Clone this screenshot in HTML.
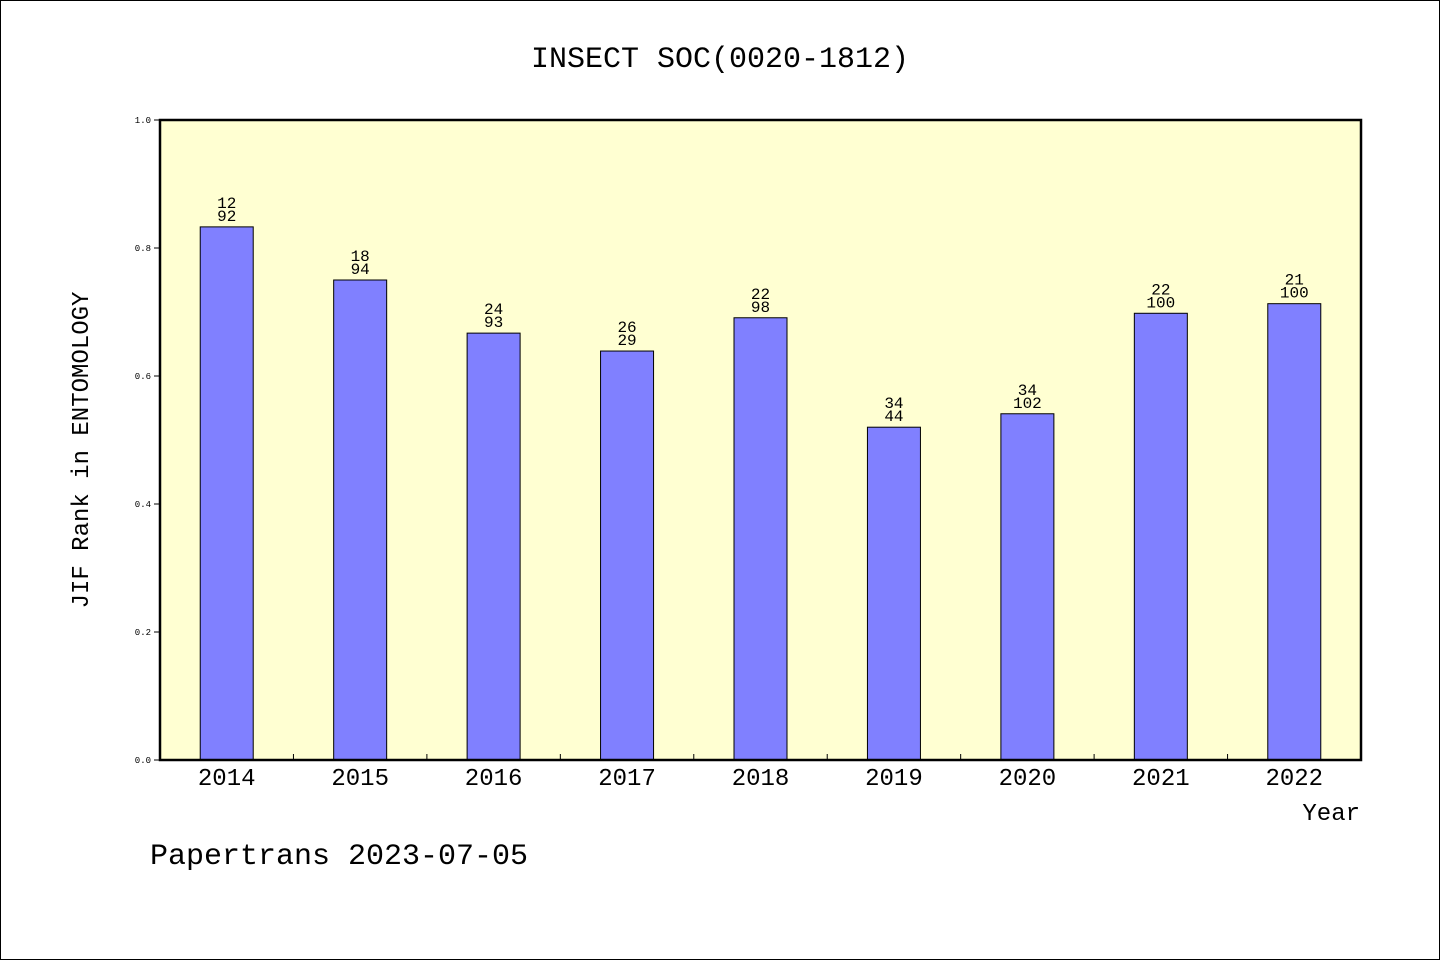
<!DOCTYPE html>
<html><head><meta charset="utf-8"><style>
html,body{margin:0;padding:0;background:#fff}
svg{display:block}
text{font-family:"WenQuanYi Zen Hei","Liberation Mono",monospace;fill:#000}
</style></head><body>
<svg width="1440" height="960">
<rect x="0.5" y="0.5" width="1439" height="959" fill="#fff" stroke="#000"/>
<text x="720" y="67" font-size="30" text-anchor="middle">INSECT SOC(0020-1812)</text>
<rect x="160" y="120" width="1201" height="640" fill="#ffffd2"/>
<g id="bars"></g>
<g id="axes"></g>
<rect x="160" y="120" width="1201" height="640" fill="none" stroke="#000" stroke-width="2.5"/>
<text x="88" y="450" font-size="24" text-anchor="middle" transform="rotate(-90 88 450)">JIF Rank in ENTOMOLOGY</text>
<text x="1360" y="820" font-size="24" text-anchor="end">Year</text>
<text x="150" y="864" font-size="30">Papertrans 2023-07-05</text>
</svg>
<script>
const categories=["2014","2015","2016","2017","2018","2019","2020","2021","2022"];
const values=[0.833,0.75,0.667,0.639,0.691,0.52,0.541,0.698,0.713];
const ranks=["12","18","24","26","22","34","34","22","21"];
const totals=["92","94","93","29","98","44","102","100","100"];
const yTicks=["0.0","0.2","0.4","0.6","0.8","1.0"];
const NS="http://www.w3.org/2000/svg";
const L=160,R=1361,T=120,B=760;
const step=(R-L)/categories.length;
const x=i=>L+step*(i+0.5);
const y=v=>B-(B-T)*v;
function mk(tag,attrs,parent,txt){const e=document.createElementNS(NS,tag);for(const k in attrs)e.setAttribute(k,attrs[k]);if(txt!==undefined)e.textContent=txt;parent.appendChild(e);return e;}
const bars=document.getElementById('bars'),axes=document.getElementById('axes');
categories.forEach((c,i)=>{
  const b=mk('rect',{x:x(i)-26.5,y:y(values[i]),width:53,height:B-y(values[i]),fill:'#8080ff',stroke:'#000','stroke-width':1},bars);
  
  
  const t1=mk('text',{x:x(i),y:y(values[i])-19,'font-size':16,'text-anchor':'middle'},bars,ranks[i]);
  
  
  const t2=mk('text',{x:x(i),y:y(values[i])-6,'font-size':16,'text-anchor':'middle'},bars,totals[i]);
  
  
  const xl=mk('text',{x:x(i),y:785,'font-size':24,'text-anchor':'middle'},axes,c);
  
  
  if(i>0){const tk=mk('line',{x1:L+step*i,x2:L+step*i,y1:B,y2:B-6,stroke:'#000'},axes);
  
  }
});
yTicks.forEach(t=>{
  const v=parseFloat(t);
  const tk=mk('line',{x1:L,x2:L-6,y1:y(v),y2:y(v),stroke:'#000'},axes);
  
  
  const tl=mk('text',{x:151,y:y(v)+3,'font-size':9,'text-anchor':'end'},axes,t);
  
  
});
</script>
</body></html>
